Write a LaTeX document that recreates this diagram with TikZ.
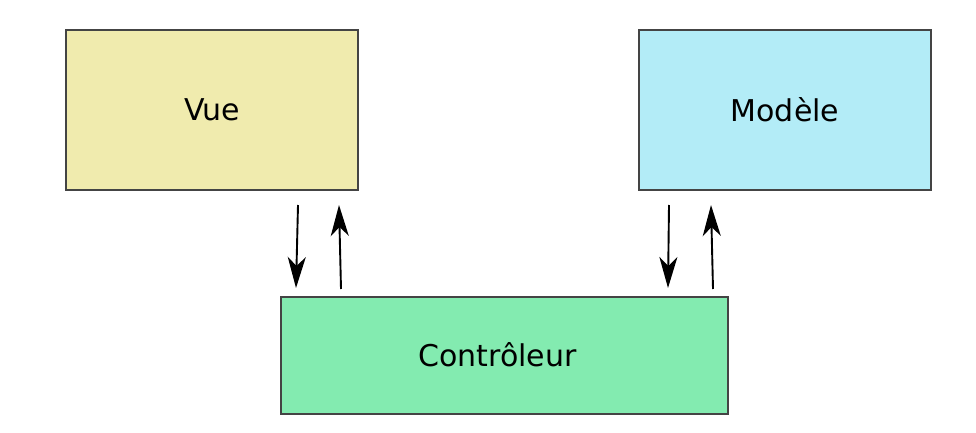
\documentclass[tikz,border=0pt]{standalone}
\usepackage{fontspec}
\setmainfont{DejaVu Sans}
\usetikzlibrary{arrows.meta,calc}
\definecolor{vuecol}{HTML}{F0EBAE}
\definecolor{modcol}{HTML}{B3ECF7}
\definecolor{ctrlcol}{HTML}{83EBB0}
\definecolor{edgecol}{HTML}{444444}
\tikzset{
  box/.style={draw=edgecol, line width=1.6pt, rectangle, inner sep=0pt,
    font=\fontsize{30}{34}\selectfont},
  link/.style={draw=black, line width=1.9pt, -{Stealth[length=31pt,width=18pt,inset=9pt]}}
}
\begin{document}
\begin{tikzpicture}[x=1pt,y=-1pt]
\useasboundingbox (0,0) rectangle (976,433);
\node[box, fill=vuecol, minimum width=292pt, minimum height=160pt] (vue) at (212,110) {\raisebox{-2pt}{Vue}};
\node[box, fill=modcol, minimum width=292pt, minimum height=160pt] (mod) at (785,110) {\raisebox{-2pt}{Modèle}};
\node[box, fill=ctrlcol, minimum width=447pt, minimum height=117pt] (ctrl) at (504.5,355.5) {\hspace*{-14pt}\raisebox{3pt}{Contrôleur}};
\coordinate (v1) at (298,205);
\coordinate (c1) at (296,288);
\coordinate (c2) at (341,289);
\coordinate (v2) at (339,205);
\coordinate (m1) at (669,205);
\coordinate (c3) at (668,288);
\coordinate (c4) at (713,289);
\coordinate (m2) at (711,205);
\draw[link] (v1) -- (c1);
\draw[link] (c2) -- (v2);
\draw[link] (m1) -- (c3);
\draw[link] (c4) -- (m2);
\end{tikzpicture}
\end{document}
